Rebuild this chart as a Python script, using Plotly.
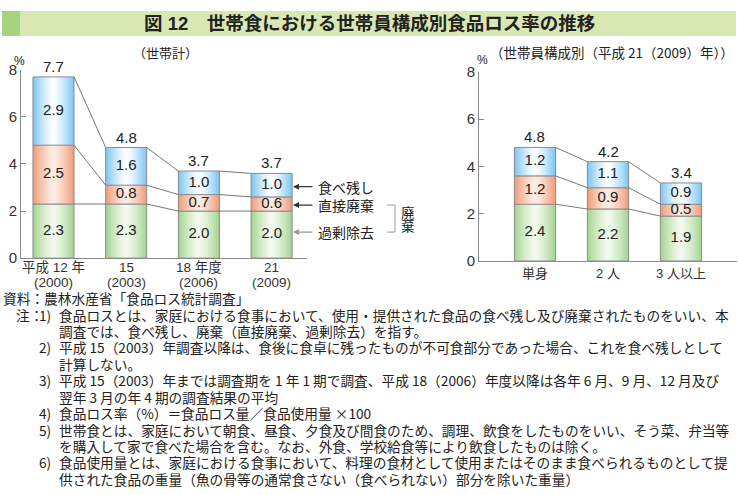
import plotly.graph_objects as go
import numpy as np

W, H = 738, 495

# ---------------- data ----------------
left_cats = ["平成 12 年<br>(2000)", "15<br>(2003)", "18 年度<br>(2006)", "21<br>(2009)"]
left_kajo = [2.3, 2.3, 2.0, 2.0]      # 過剰除去
left_chokusetsu = [2.5, 0.8, 0.7, 0.6]  # 直接廃棄
left_tabenokoshi = [2.9, 1.6, 1.0, 1.0]  # 食べ残し
left_totals = [7.7, 4.8, 3.7, 3.7]

right_cats = ["単身", "2 人", "3 人以上"]
right_kajo = [2.4, 2.2, 1.9]
right_chokusetsu = [1.2, 0.9, 0.5]
right_tabenokoshi = [1.2, 1.1, 0.9]
right_totals = [4.8, 4.2, 3.4]

y_ticks = [0, 2, 4, 6, 8]

title = "図 12　世帯食における世帯員構成別食品ロス率の推移"
sub_left = "（世帯計）"
sub_right = "（世帯員構成別（平成 21（2009）年））"
legend_labels = ["食べ残し", "直接廃棄", "過剰除去"]

notes = [
    ("", "", "資料：農林水産省「食品ロス統計調査」"),
    ("注：", "1)", "食品ロスとは、家庭における食事において、使用・提供された食品の食べ残し及び廃棄されたものをいい、本"),
    ("", "", "調査では、食べ残し、廃棄（直接廃棄、過剰除去）を指す。"),
    ("", "2)", "平成 15（2003）年調査以降は、食後に食卓に残ったものが不可食部分であった場合、これを食べ残しとして"),
    ("", "", "計算しない。"),
    ("", "3)", "平成 15（2003）年までは調査期を 1 年 1 期で調査、平成 18（2006）年度以降は各年 6 月、9 月、12 月及び"),
    ("", "", "翌年 3 月の年 4 期の調査結果の平均"),
    ("", "4)", "食品ロス率（%）＝食品ロス量／食品使用量 ×100"),
    ("", "5)", "世帯食とは、家庭において朝食、昼食、夕食及び間食のため、調理、飲食をしたものをいい、そう菜、弁当等"),
    ("", "", "を購入して家で食べた場合を含む。なお、外食、学校給食等により飲食したものは除く。"),
    ("", "6)", "食品使用量とは、家庭における食事において、料理の食材として使用またはそのまま食べられるものとして提"),
    ("", "", "供された食品の重量（魚の骨等の通常食さない（食べられない）部分を除いた重量）"),
]

# ---------------- style ----------------
FONT = "Liberation Sans, Noto Sans CJK JP, sans-serif"
JFONT = "Noto Sans CJK JP, sans-serif"
TXT = "#222222"
AXC = "#8a8a8a"
seg_colors = [  # (edge, center)
    ((166, 213, 146), (244, 250, 240)),   # green 過剰除去
    ((240, 158, 126), (253, 238, 230)),   # orange 直接廃棄
    ((128, 200, 244), (255, 255, 255)),   # blue 食べ残し
]
BAR_W = 0.565
NLAY = 12


def px(x):
    return x / W


def py(y):
    return 1 - y / H


def mix(c0, c1, t):
    return "rgb(%d,%d,%d)" % tuple(round(a + (b - a) * t) for a, b in zip(c0, c1))


fig = go.Figure()
ann = []


def add_stack(segs, totals, xa, ya):
    n = len(segs[0])
    xs = list(range(n))
    base = np.zeros(n)
    cums = []
    for vals, (edge, center) in zip(segs, seg_colors):
        vals = np.array(vals, dtype=float)
        for k in range(NLAY):
            f = 1 - k / NLAY
            col = mix(center, edge, f ** 1.4)
            fig.add_bar(x=xs, y=vals, base=base, width=BAR_W * f, marker_color=col,
                        marker_line_width=0, xaxis=xa, yaxis=ya,
                        hoverinfo="skip", showlegend=False)
        fig.add_bar(x=xs, y=vals, base=base, width=BAR_W, marker_color="rgba(0,0,0,0)",
                    marker_line_color="#8c8c8c", marker_line_width=1, xaxis=xa, yaxis=ya,
                    hoverinfo="skip", showlegend=False)
        fig.add_scatter(x=xs, y=base + vals / 2, mode="text",
                        text=["%.1f" % v for v in vals],
                        textfont=dict(family=FONT, size=15, color=TXT),
                        xaxis=xa, yaxis=ya, hoverinfo="skip", showlegend=False, cliponaxis=False)
        base = base + vals
        cums.append(base.copy())
    cx, cy = [], []
    for c in cums:
        for i in range(n - 1):
            cx += [i + BAR_W / 2, i + 1 - BAR_W / 2, None]
            cy += [c[i], c[i + 1], None]
    fig.add_scatter(x=cx, y=cy, mode="lines", line=dict(color="#555555", width=0.8),
                    xaxis=xa, yaxis=ya, hoverinfo="skip", showlegend=False)
    for i in range(n):
        ann.append(dict(x=i, y=base[i], xref=xa, yref=ya, text="%.1f" % totals[i],
                        showarrow=False, yanchor="bottom", yshift=0,
                        font=dict(family=FONT, size=15, color=TXT)))


add_stack([left_kajo, left_chokusetsu, left_tabenokoshi], left_totals, "x", "y")
add_stack([right_kajo, right_chokusetsu, right_tabenokoshi], right_totals, "x2", "y2")

yax = dict(range=[0, 8], tickvals=y_ticks, ticks="inside", ticklen=5, tickcolor=AXC,
           showline=True, linecolor=AXC, linewidth=1, showgrid=False, zeroline=False,
           tickfont=dict(family=FONT, size=15, color="#333333"))
xax = dict(showline=True, linecolor=AXC, linewidth=1, showgrid=False, zeroline=False,
           ticks="", tickfont=dict(family=FONT, size=13, color="#333333"))

fig.update_layout(
    width=W, height=H, margin=dict(l=0, r=0, t=0, b=0),
    paper_bgcolor="white", plot_bgcolor="rgba(0,0,0,0)",
    barmode="overlay", showlegend=False,
    xaxis=dict(xax, domain=[px(21), px(307)], range=[-0.447, 3.487],
               tickvals=list(range(len(left_cats))), ticktext=left_cats, showticklabels=False),
    yaxis=dict(yax, domain=[py(258), py(63)], anchor="x"),
    xaxis2=dict(xax, domain=[px(479), px(737)], range=[-0.767, 2.767],
                tickvals=list(range(len(right_cats))), ticktext=right_cats, anchor="y2"),
    yaxis2=dict(yax, domain=[py(261), py(65)], anchor="x2"),
)

shapes = [
    dict(type="rect", xref="paper", yref="paper", x0=px(2), x1=px(736), y0=py(28), y1=py(2),
         fillcolor="#d9e8b2", line_width=0, layer="below"),
    dict(type="rect", xref="paper", yref="paper", x0=px(2), x1=px(20), y0=py(28), y1=py(2),
         fillcolor="#a6d47c", line_width=0, layer="below"),
    dict(type="path", xref="paper", yref="paper",
         path="M %f,%f L %f,%f L %f,%f L %f,%f" % (px(387), py(203), px(395), py(203),
                                                  px(395), py(231), px(387), py(231)),
         line=dict(color="#999999", width=1)),
]
fig.update_layout(shapes=shapes)


def text(x, y, s, size=13, anchor="center", family=JFONT, color=TXT, yanchor="middle"):
    ann.append(dict(x=px(x), y=py(y), xref="paper", yref="paper", text=s, showarrow=False,
                    xanchor=anchor, yanchor=yanchor, borderpad=0,
                    font=dict(family=family, size=size, color=color)))


# left category labels (two lines, tight spacing)
for i, lab in enumerate(left_cats):
    for j, part in enumerate(lab.split("<br>")):
        ann.append(dict(x=i, y=py(268 + 15.5 * j), xref="x", yref="paper", text=part,
                        showarrow=False, yanchor="middle", borderpad=0,
                        font=dict(family=FONT, size=13.5, color="#333333")))

text(370, 15, "<b>" + title + "</b>", size=18.5, family=FONT, color="#222222")
text(165, 45, sub_left, size=13)
text(612, 45, sub_right, size=13.5)
text(19, 54, "%", size=12, family=FONT)
text(482, 53, "%", size=12, family=FONT)

leg_y = [184, 203, 231]
arrow_cols = ["#333333", "#333333", "#999999"]
for lab, yy, ac in zip(legend_labels, leg_y, arrow_cols):
    ann.append(dict(x=px(293), y=py(yy), xref="paper", yref="paper", text="", showarrow=True,
                    ax=21, ay=0, arrowhead=2, arrowsize=1, arrowwidth=1.2, arrowcolor=ac, standoff=0))
    text(317, yy, lab, size=14, anchor="left")
text(408, 210, "廃", size=13.5)
text(408, 223.5, "棄", size=13.5)

y0, dy = 299.5, 17.0
for i, (lab, num, body) in enumerate(notes):
    yy = y0 + dy * i
    if i == 0:
        text(2, yy, body, size=13.7, anchor="left")
        continue
    if lab:
        text(44, yy, lab, size=13.7, anchor="right")
    if num:
        text(38, yy, num, size=13.7, anchor="left")
    text(58, yy, body, size=13.7, anchor="left")

fig.update_layout(annotations=ann)
fig.write_html("out.html")
